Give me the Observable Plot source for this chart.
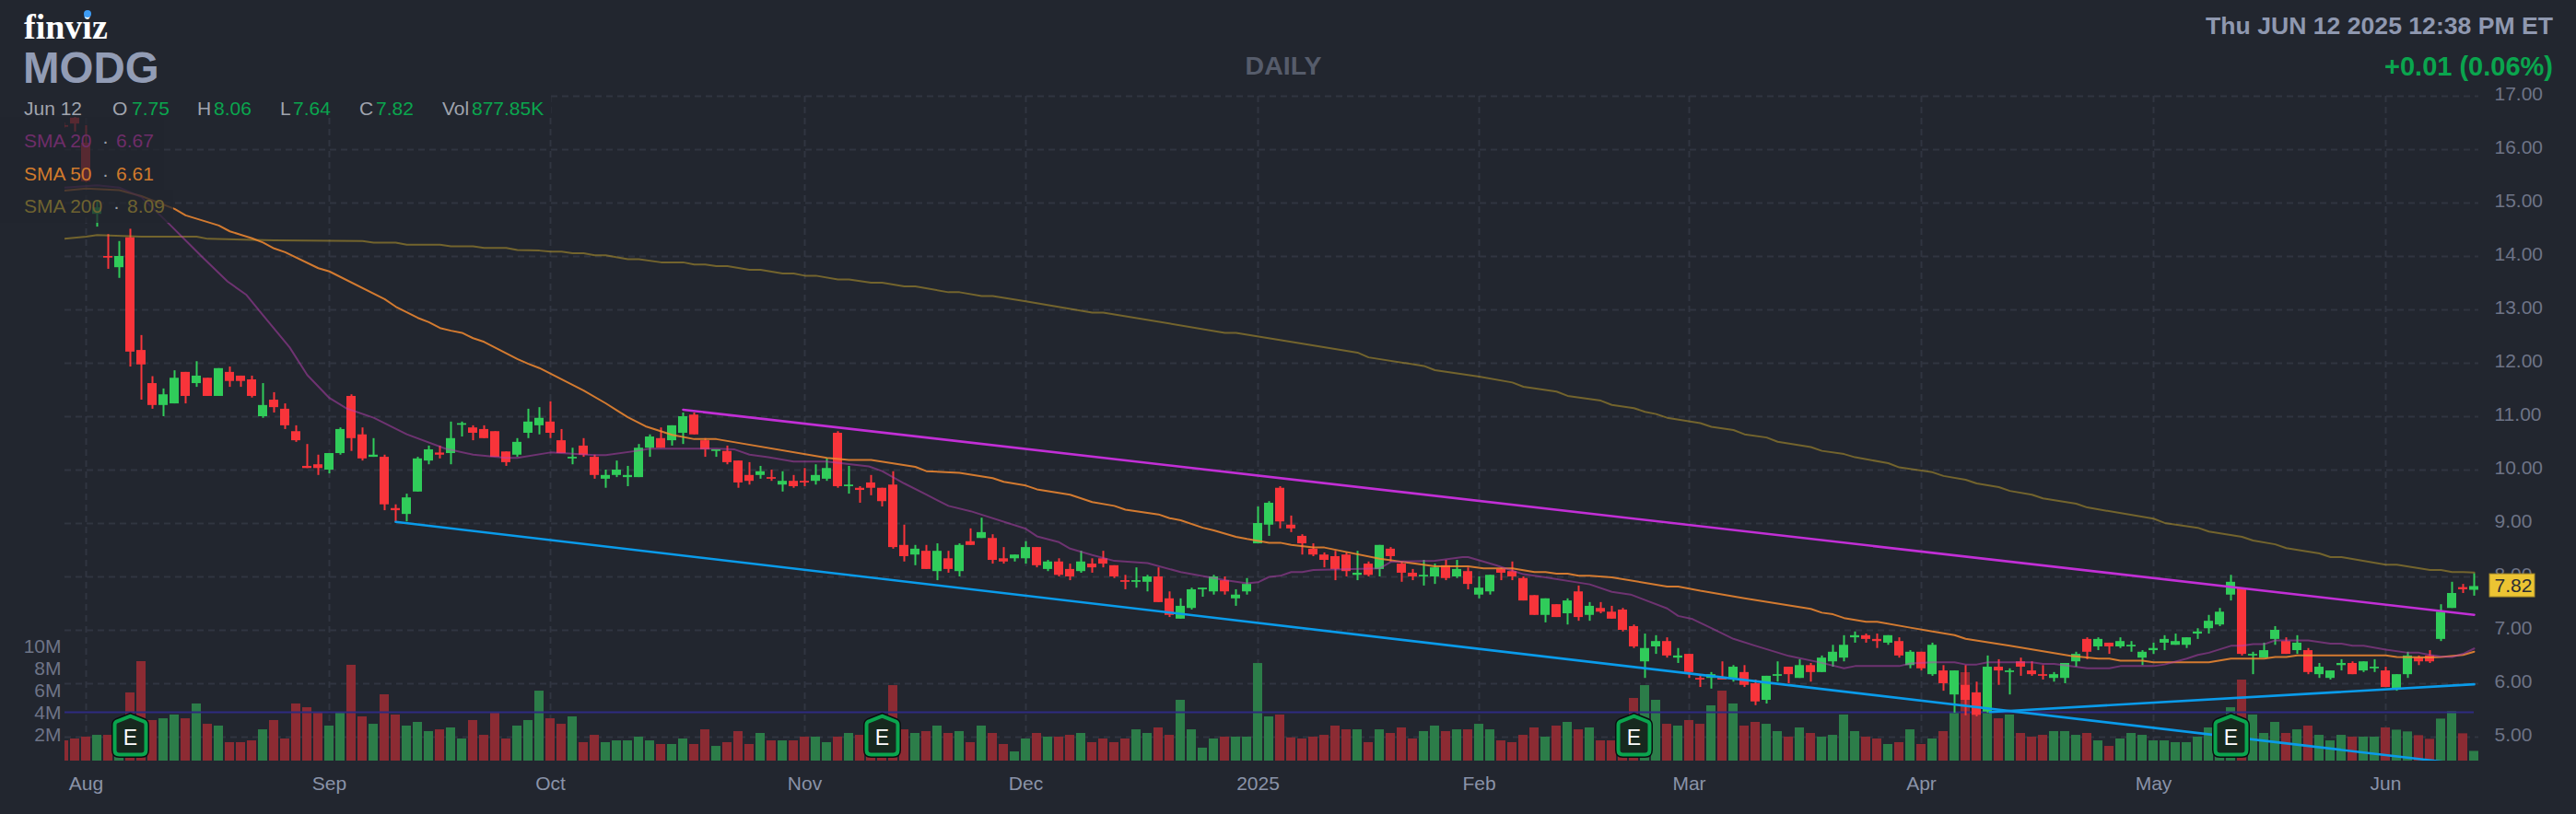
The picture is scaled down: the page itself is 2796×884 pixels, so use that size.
<!DOCTYPE html>
<html><head><meta charset="utf-8">
<script src="https://cdn.jsdelivr.net/npm/d3@7"></script>
<script src="https://cdn.jsdelivr.net/npm/@observablehq/plot@0.6"></script>
<style>
html,body{margin:0;padding:0;background:#22262f;font-family:"Liberation Sans",Arial,sans-serif;}
#wrap{position:relative;width:2796px;height:884px;overflow:hidden;}
#wrap svg{display:block;}
.a{position:absolute;white-space:pre;line-height:1;}
.lab{font-size:21px;color:#a0a4ae;}
.g{font-size:21px;color:#0aa54e;}
</style></head><body>
<div id="wrap">
<div id="chart"></div>
<div class="a" style="left:0;top:102px;width:598px;height:25px;background:#22262f"></div>
<div class="a" style="left:0;top:127px;width:178px;height:79px;background:rgba(34,38,47,.75)"></div>
<div class="a" style="left:0;top:206px;width:188px;height:36px;background:rgba(34,38,47,.75)"></div>
<div class="a" style="left:26px;top:7px;font:bold 38px 'Liberation Serif',serif;color:#fff">finviz</div>
<div class="a" style="left:90.5px;top:11px;width:8px;height:8px;border-radius:50%;background:#3d9cf5"></div>
<div class="a" style="left:25px;top:50px;font-weight:bold;font-size:47.5px;color:#929cb5">MODG</div>
<div class="a" style="left:1350px;top:57px;width:86px;text-align:center;font-weight:bold;font-size:28.5px;color:#565c6b">DAILY</div>
<div class="a" style="right:25px;top:15px;font-weight:bold;font-size:26.6px;color:#8f98b0">Thu JUN 12 2025 12:38 PM ET</div>
<div class="a" style="right:25px;top:58px;font-weight:bold;font-size:29px;color:#0aa54e">+0.01 (0.06%)</div>
<div class="a lab" style="left:26px;top:107px">Jun 12</div>
<div class="a lab" style="left:122px;top:107px">O</div><div class="a g" style="left:143px;top:107px">7.75</div>
<div class="a lab" style="left:214px;top:107px">H</div><div class="a g" style="left:232px;top:107px">8.06</div>
<div class="a lab" style="left:304px;top:107px">L</div><div class="a g" style="left:318px;top:107px">7.64</div>
<div class="a lab" style="left:390px;top:107px">C</div><div class="a g" style="left:408px;top:107px">7.82</div>
<div class="a lab" style="left:480px;top:107px">Vol</div><div class="a g" style="left:512px;top:107px">877.85K</div>
<div class="a" style="left:26px;top:142px;font-size:21px;color:#6e2d69">SMA 20</div><div class="a" style="left:111px;top:142px;font-size:21px;color:#9a9ea8">·</div><div class="a" style="left:126px;top:142px;font-size:21px;color:#6e2d69">6.67</div>
<div class="a" style="left:26px;top:178px;font-size:21px;color:#d07a2c">SMA 50</div><div class="a" style="left:111px;top:178px;font-size:21px;color:#9a9ea8">·</div><div class="a" style="left:126px;top:178px;font-size:21px;color:#d07a2c">6.61</div>
<div class="a" style="left:26px;top:213px;font-size:21px;color:#6f6330">SMA 200</div><div class="a" style="left:123px;top:213px;font-size:21px;color:#9a9ea8">·</div><div class="a" style="left:138px;top:213px;font-size:21px;color:#6f6330">8.09</div>
</div>
<script>
// Daily candles. Index 0 is Jul 30 2024, index 218 is Jun 12 2025.
const opens = [16.45,16.59,16.12,14.79,14.00,13.79,14.35,12.24,11.62,11.21,
11.24,11.83,11.62,11.72,11.38,11.83,11.76,11.69,11.00,11.31,
11.14,10.72,10.07,10.10,10.00,10.31,11.38,10.66,10.24,10.24,
9.28,9.17,9.59,10.17,10.32,10.31,10.84,10.79,10.76,10.72,
10.34,10.28,10.69,10.83,10.90,10.55,10.21,10.45,10.24,9.83,
9.90,9.86,9.86,10.41,10.59,10.55,10.69,11.03,10.55,10.35,
10.35,10.17,9.90,9.90,9.86,9.72,9.79,9.79,9.79,9.83,
10.69,9.69,9.66,9.76,9.66,9.72,8.59,8.41,8.48,8.10,
8.34,8.10,8.66,8.72,8.72,8.34,8.34,8.34,8.55,8.14,
8.28,8.14,8.10,8.24,8.34,8.21,7.93,7.90,7.90,8.00,
7.59,7.21,7.41,7.76,7.72,7.93,7.59,7.72,8.62,8.97,
9.66,8.97,8.76,8.52,8.41,8.38,8.41,8.03,8.24,8.14,
8.52,8.24,8.07,8.00,8.00,8.21,8.00,8.10,7.66,7.72,
8.14,8.10,7.97,7.65,7.28,7.48,7.31,7.72,7.28,7.41,
7.34,7.38,7.07,6.41,6.69,6.79,6.48,6.55,6.10,6.10,
6.11,6.10,6.21,6.00,5.69,6.14,6.31,6.10,6.34,6.21,
6.41,6.48,6.86,6.90,6.83,6.76,6.79,6.34,6.59,6.17,
6.24,5.79,5.97,5.83,5.47,6.31,6.21,6.41,6.24,6.17,
6.10,6.10,6.41,6.83,6.69,6.76,6.69,6.69,6.48,6.62,
6.76,6.72,6.72,6.93,7.03,7.10,7.66,7.79,6.52,6.48,
6.83,6.79,6.62,6.62,6.17,6.10,6.34,6.38,6.24,6.28,
6.24,5.90,6.17,6.48,6.52,6.83,7.41,7.80,7.75];
const highs = [16.50,16.62,16.45,15.05,14.41,14.28,14.51,12.52,11.75,11.52,
11.86,11.83,12.03,11.72,11.90,11.93,11.76,11.76,11.62,11.45,
11.24,10.83,10.48,10.28,10.31,10.79,11.41,10.79,10.59,10.28,
9.35,9.55,10.24,10.45,10.45,10.90,10.90,10.83,10.83,10.72,
10.34,10.59,11.14,11.17,11.28,10.76,10.41,10.59,10.28,10.00,
10.17,10.07,10.48,10.66,10.79,10.83,11.07,11.07,10.59,10.38,
10.45,10.17,10.14,10.07,10.00,9.97,9.90,10.03,10.10,10.21,
10.72,10.07,9.69,9.90,9.66,9.97,8.97,8.59,8.59,8.62,
8.48,8.62,8.90,9.10,8.79,8.55,8.41,8.66,8.55,8.31,
8.34,8.24,8.48,8.34,8.48,8.21,8.03,8.17,8.03,8.17,
7.72,7.59,7.79,7.79,8.03,8.00,7.76,7.97,9.31,9.41,
9.69,9.14,8.79,8.62,8.45,8.48,8.45,8.48,8.28,8.59,
8.55,8.28,8.14,8.31,8.24,8.31,8.31,8.17,8.00,8.03,
8.17,8.28,8.00,7.65,7.59,7.48,7.59,7.83,7.52,7.52,
7.45,7.41,7.10,6.93,6.90,6.86,6.66,6.55,6.17,6.21,
6.41,6.34,6.34,6.07,6.14,6.41,6.31,6.45,6.38,6.52,
6.72,6.90,6.97,6.93,6.93,6.90,6.86,6.62,6.59,6.76,
6.34,6.24,6.34,6.03,6.52,6.45,6.28,6.48,6.41,6.34,
6.21,6.38,6.59,6.86,6.86,6.76,6.86,6.79,6.62,6.76,
6.90,6.93,6.86,7.03,7.28,7.41,8.03,7.79,6.59,6.76,
7.07,6.86,6.90,6.66,6.38,6.24,6.45,6.41,6.41,6.45,
6.31,6.17,6.59,6.52,6.62,7.48,7.90,7.86,8.06];
const lows = [16.40,16.33,15.38,14.55,13.76,13.59,11.93,11.31,11.14,11.00,
11.24,11.24,11.55,11.38,11.38,11.55,11.55,11.35,10.97,11.07,
10.76,10.52,10.03,9.90,9.93,10.28,10.35,10.17,10.24,9.24,
9.02,9.03,9.59,10.10,10.21,10.10,10.62,10.55,10.59,10.24,
10.07,10.24,10.59,10.66,10.59,10.31,10.10,10.24,9.83,9.66,
9.86,9.69,9.86,10.24,10.41,10.45,10.48,10.66,10.24,10.24,
10.10,9.66,9.72,9.83,9.79,9.59,9.66,9.69,9.72,9.79,
9.66,9.55,9.38,9.52,9.31,8.52,8.28,8.21,8.14,7.93,
8.07,8.00,8.59,8.72,8.24,8.24,8.28,8.24,8.17,8.10,
8.00,7.93,8.07,8.07,8.17,7.97,7.76,7.79,7.72,7.52,
7.24,7.21,7.38,7.62,7.66,7.66,7.45,7.66,8.62,8.76,
8.90,8.83,8.41,8.38,8.17,7.93,8.00,7.93,8.00,8.00,
8.28,7.90,7.93,7.83,7.86,7.93,7.97,7.76,7.59,7.66,
7.93,7.93,7.55,7.28,7.14,7.24,7.10,7.17,7.17,7.31,
7.21,6.97,6.66,6.10,6.55,6.48,6.38,6.10,5.93,5.90,
6.07,6.03,5.93,5.59,5.62,6.03,6.00,6.10,6.03,6.21,
6.31,6.41,6.76,6.76,6.66,6.72,6.48,6.28,6.24,6.14,
5.86,5.45,5.40,5.38,5.45,5.97,5.79,6.14,6.14,6.07,
6.03,6.00,6.31,6.45,6.62,6.55,6.66,6.59,6.34,6.55,
6.62,6.72,6.66,6.83,6.93,7.07,7.55,6.52,6.17,6.48,
6.72,6.55,6.55,6.17,6.10,6.07,6.24,6.17,6.21,6.21,
5.93,5.86,6.10,6.34,6.38,6.79,7.41,7.69,7.64];
const closes = [16.42,16.48,15.40,14.91,13.97,14.00,12.21,11.97,11.21,11.41,
11.72,11.38,11.76,11.38,11.90,11.66,11.66,11.38,11.21,11.17,
10.83,10.55,10.03,10.03,10.31,10.76,10.59,10.21,10.28,9.35,
9.24,9.48,10.21,10.38,10.28,10.59,10.87,10.69,10.59,10.24,
10.14,10.52,10.90,10.97,10.69,10.31,10.24,10.28,9.90,9.90,
10.00,9.90,10.41,10.62,10.41,10.83,11.00,10.66,10.38,10.38,
10.14,9.76,9.79,9.97,9.83,9.79,9.69,9.76,9.90,10.03,
9.69,9.72,9.62,9.66,9.41,8.55,8.38,8.52,8.14,8.48,
8.14,8.59,8.59,8.83,8.31,8.28,8.41,8.55,8.21,8.28,
8.03,8.00,8.28,8.17,8.24,8.00,7.90,7.93,8.00,7.52,
7.28,7.45,7.76,7.79,8.00,7.72,7.66,7.86,9.00,9.38,
9.03,8.90,8.62,8.41,8.31,8.14,8.10,8.07,8.03,8.59,
8.38,8.07,8.00,8.03,8.17,7.97,8.14,7.86,7.79,8.03,
8.07,8.00,7.55,7.28,7.59,7.24,7.55,7.24,7.45,7.34,
7.21,7.00,6.69,6.66,6.79,6.52,6.52,6.21,6.07,6.17,
6.07,6.31,5.97,5.66,6.14,6.17,6.17,6.34,6.21,6.48,
6.59,6.72,6.90,6.83,6.79,6.90,6.52,6.59,6.28,6.72,
6.00,6.24,5.69,5.41,6.31,6.24,6.24,6.31,6.17,6.14,
6.17,6.38,6.55,6.59,6.83,6.69,6.79,6.72,6.59,6.66,
6.83,6.79,6.86,6.97,7.17,7.34,7.90,6.55,6.55,6.62,
7.00,6.55,6.76,6.21,6.31,6.24,6.38,6.17,6.41,6.31,
5.93,6.17,6.52,6.41,6.41,7.34,7.69,7.76,7.82];
const volumes = [1.83,2.0,2.17,2.33,2.33,2.6,6.17,9.0,3.67,3.83,
4.17,3.83,5.17,3.33,3.17,1.67,1.67,1.83,2.83,3.67,
2.0,5.17,4.83,4.33,3.17,4.33,8.67,4.0,3.33,6.0,
4.17,3.17,3.5,2.67,2.83,3.0,2.0,3.67,2.33,4.33,
2.0,3.17,3.67,6.33,3.83,3.33,4.0,1.67,2.33,1.67,
1.83,1.83,2.17,1.83,1.5,1.5,2.0,1.5,2.83,1.33,
1.67,2.67,1.5,2.5,1.83,1.83,1.83,2.17,2.17,1.67,
2.17,2.5,2.33,2.4,2.8,6.83,2.83,2.5,2.67,3.17,
2.5,2.67,1.67,3.17,2.5,1.5,0.83,2.0,2.5,2.17,
2.17,2.33,2.5,1.67,2.0,1.67,2.0,2.83,2.5,3.0,
2.33,5.5,2.83,1.17,2.0,2.17,2.17,2.17,8.83,4.0,
4.17,2.1,2.0,2.17,2.33,3.17,2.83,2.83,1.67,2.83,
2.5,3.0,2.0,2.67,3.17,2.67,2.83,2.83,3.33,2.83,
1.83,1.67,2.33,3.0,2.17,3.17,3.5,2.83,3.0,1.83,
1.83,1.6,5.67,6.83,5.5,3.33,3.17,3.67,3.33,5.0,
6.33,5.17,3.17,3.5,3.33,2.67,2.17,3.0,2.5,2.17,
2.33,4.17,2.67,2.17,2.0,1.5,1.67,2.83,1.5,2.0,
2.67,4.33,8.0,5.5,4.4,3.83,4.17,2.5,2.17,2.33,
2.67,2.67,2.33,2.5,1.83,1.33,2.0,2.5,2.33,1.83,
1.83,1.67,1.67,2.17,3.0,2.8,4.83,7.33,4.17,2.5,
3.5,2.5,2.83,3.17,2.33,1.83,2.33,2.17,2.17,2.17,
3.0,2.8,2.64,2.3,1.97,3.8,4.47,2.47,0.88];

// Moving averages, as [bar index, value] points.
const sma200 = [[0,14.33],[2,14.37],[3,14.40],[7,14.37],[12,14.37],[13,14.33],[19,14.30],[27,14.29],[28,14.26],[30,14.26],[31,14.22],[34,14.22],[35,14.19],[37,14.19],[38,14.16],[40,14.16],[41,14.12],[43,14.11],[44,14.09],[45,14.09],[46,14.06],[47,14.06],[48,14.02],[49,14.02],[51,13.95],[52,13.95],[54,13.89],[56,13.89],[57,13.85],[58,13.85],[59,13.82],[60,13.82],[62,13.75],[63,13.75],[65,13.68],[66,13.68],[67,13.64],[68,13.64],[70,13.57],[71,13.57],[73,13.51],[74,13.51],[76,13.44],[77,13.44],[80,13.33],[81,13.33],[83,13.26],[84,13.26],[87,13.16],[93,12.95],[94,12.95],[105,12.57],[106,12.57],[111,12.40],[117,12.20],[118,12.11],[123,11.95],[124,11.87],[128,11.75],[131,11.64],[132,11.56],[135,11.47],[136,11.39],[139,11.30],[140,11.22],[142,11.16],[143,11.09],[144,11.05],[145,10.98],[148,10.88],[149,10.81],[151,10.75],[152,10.67],[154,10.61],[155,10.53],[158,10.43],[159,10.36],[161,10.30],[162,10.24],[165,10.13],[166,10.05],[169,9.96],[170,9.89],[172,9.82],[173,9.75],[175,9.68],[176,9.61],[178,9.54],[179,9.47],[182,9.37],[183,9.30],[189,9.09],[190,9.01],[193,8.92],[194,8.85],[197,8.75],[198,8.68],[200,8.61],[201,8.54],[204,8.44],[205,8.37],[206,8.37],[210,8.23],[211,8.23],[214,8.13],[215,8.13],[216,8.09],[217,8.09],[218,8.08]];
const sma50 = [[0,15.23],[2,15.27],[5,15.24],[7,15.13],[10,14.89],[11,14.77],[14,14.58],[15,14.47],[17,14.34],[18,14.26],[19,14.15],[20,14.08],[23,13.78],[24,13.72],[29,13.20],[30,13.06],[32,12.85],[33,12.77],[34,12.66],[35,12.61],[36,12.57],[37,12.47],[38,12.40],[41,12.08],[42,11.99],[43,11.91],[47,11.49],[49,11.25],[50,11.12],[51,10.99],[52.6,10.82],[55,10.66],[57,10.58],[59,10.58],[69,10.23],[71,10.19],[73,10.19],[77,10.06],[78,9.98],[81,9.95],[84,9.85],[85,9.78],[87,9.71],[88,9.64],[91,9.54],[93,9.40],[95,9.33],[96,9.26],[99,9.17],[100,9.10],[101,9.06],[103,8.92],[104,8.87],[106,8.75],[107,8.71],[109,8.64],[110,8.64],[111,8.60],[113,8.55],[114,8.55],[119,8.34],[124,8.20],[127,8.20],[128.4,8.16],[131,8.16],[133,8.09],[134,8.09],[135,8.06],[136,8.06],[137,8.02],[138,8.02],[140,7.99],[143,7.89],[145,7.82],[146,7.82],[148,7.74],[152,7.60],[158,7.40],[159,7.33],[160,7.30],[161,7.23],[163,7.16],[164,7.16],[167,7.05],[169,6.98],[171,6.91],[172,6.84],[176,6.71],[181.5,6.52],[184,6.47],[185,6.47],[186,6.43],[188,6.43],[189,6.40],[194,6.40],[196,6.47],[199,6.47],[200,6.50],[201,6.50],[202,6.53],[210,6.53],[211,6.50],[214,6.49],[215,6.50],[217,6.54],[218,6.60]];
const sma20 = [[0,15.29],[3,15.33],[5,15.29],[7,15.11],[8.7,14.77],[9.5,14.61],[12.6,13.97],[14.8,13.53],[16.5,13.28],[18,12.90],[20.4,12.30],[22,11.78],[24,11.35],[25.6,11.15],[28,10.98],[31,10.67],[34.5,10.40],[37,10.29],[40,10.23],[41,10.23],[44,10.33],[48,10.28],[49,10.28],[51.8,10.36],[53,10.40],[59,10.40],[60.6,10.39],[62,10.29],[63.7,10.24],[66,10.16],[69,10.16],[72.8,10.07],[74,9.98],[76,9.75],[78,9.54],[80,9.33],[82,9.23],[87,8.90],[88,8.76],[90,8.65],[91,8.53],[93,8.41],[95,8.30],[98,8.26],[101,8.09],[105,7.94],[107,7.88],[108,7.90],[109,8.0],[110,8.02],[111,8.09],[112,8.09],[113,8.13],[119,8.16],[120,8.28],[121,8.29],[124,8.30],[126.5,8.37],[127,8.37],[129.5,8.22],[132,8.05],[134,7.99],[138,7.86],[140,7.72],[141.7,7.67],[145,7.41],[146,7.27],[147.3,7.21],[149,7.04],[151,6.84],[153,6.71],[156,6.52],[159,6.39],[161,6.29],[162,6.33],[166,6.33],[167,6.38],[169,6.40],[171,6.40],[172,6.36],[173,6.36],[174,6.40],[178,6.40],[179,6.37],[180,6.37],[183,6.29],[185,6.29],[186,6.33],[189,6.33],[190,6.36],[192,6.47],[193,6.54],[194,6.58],[196,6.71],[197,6.71],[198,6.74],[199,6.74],[200,6.81],[203,6.81],[205,6.75],[206,6.75],[207,6.71],[208,6.71],[210,6.64],[212,6.58],[213,6.58],[214,6.54],[215,6.51],[216,6.50],[217,6.56],[218,6.66]];

// Hand-drawn trend lines, as [bar index, price] ends.
const purpleTrend = [[56,11.13],[218,7.29]];
const blueTrendDown = [[30,9.03],[218,4.47]];
const blueTrendUp = [[174.2,5.47],[218,5.99]];

const priceTicks = [5,6,7,8,9,10,11,12,13,14,15,16,17];
const volumeTicks = [2,4,6,8,10];
const monthBars = [2,24,44,67,87,108,128,147,168,189,210];
const monthLabels = ["Aug","Sep","Oct","Nov","Dec","2025","Feb","Mar","Apr","May","Jun"];
const earningsBars = [6,74,142,196];
const averageVolume = 4.42;
const lastClose = 7.82;

// Price and volume share one frame: volume is stacked from the frame floor.
const priceFloor = 4.552, priceTop = 17;
const dollarsPerMillion = 12 / 58;
const volToPrice = v => priceFloor + v * dollarsPerMillion;
const priceToVol = p => Math.round((p - priceFloor) / dollarsPerMillion);

const bars = opens.map((o, i) => ({i, o, h: highs[i], l: lows[i], c: closes[i], v: volumes[i], up: closes[i] >= o}));
const half = 5 / 12;

const house = {draw(c) {
  const w = 17, s = -14, t = -21, b = 21, r = 5;
  c.moveTo(0, t);
  c.lineTo(w - 2, s - 1);
  c.quadraticCurveTo(w, s, w, s + 3);
  c.lineTo(w, b - r);
  c.quadraticCurveTo(w, b, w - r, b);
  c.lineTo(-w + r, b);
  c.quadraticCurveTo(-w, b, -w, b - r);
  c.lineTo(-w, s + 3);
  c.quadraticCurveTo(-w, s, -w + 2, s - 1);
  c.closePath();
}};

const xy = {x: d => d[0], y: d => d[1], clip: true, strokeLinejoin: "round"};
const grid = {stroke: "#303541", strokeWidth: 2, strokeDasharray: "7 5", strokeOpacity: 1};
const tickText = {tickSize: 0, fontSize: 21, label: null, color: "#6e7487"};

const chart = Plot.plot({
  width: 2796, height: 884,
  marginLeft: 70, marginRight: 106, marginTop: 104, marginBottom: 58,
  style: {background: "transparent", fontFamily: "'Liberation Sans', Arial, sans-serif"},
  x: {type: "linear", domain: [1 / 12, 218 + 5 / 12], axis: null},
  y: {type: "linear", domain: [priceFloor, priceTop], axis: null},
  marks: [
    Plot.gridY(priceTicks, grid),
    Plot.gridX(monthBars, grid),
    Plot.axisX(monthBars, {...tickText, anchor: "bottom", tickPadding: 17, color: "#8a93a8", tickFormat: i => monthLabels[monthBars.indexOf(i)]}),
    Plot.axisY(priceTicks, {...tickText, anchor: "right", tickPadding: 17, dy: -2, tickFormat: d3.format(".2f")}),
    Plot.axisY(volumeTicks.map(volToPrice), {...tickText, anchor: "left", tickPadding: 4, dy: -4, tickFormat: p => priceToVol(p) + "M"}),
    Plot.rect(bars, {x1: d => d.i - half, x2: d => d.i + half, y1: priceFloor, y2: d => volToPrice(d.v), fill: d => d.up ? "#2c7d49" : "#8c2b33", clip: true}),
    Plot.ruleY([volToPrice(averageVolume)], {x1: 1 / 12, x2: 218, stroke: "#2e2b80", strokeWidth: 2}),
    Plot.ruleX(bars, {x: "i", y1: "l", y2: "h", stroke: d => d.up ? "#30cc5a" : "#f8343a", strokeWidth: 2, clip: true}),
    Plot.rect(bars, {x1: d => d.i - half, x2: d => d.i + half, y1: "o", y2: "c", fill: d => d.up ? "#30cc5a" : "#f8343a", clip: true}),
    Plot.line(sma200, {...xy, stroke: "#c4a22b", strokeOpacity: .5, strokeWidth: 2}),
    Plot.line(sma50, {...xy, stroke: "#f28a30", strokeOpacity: .85, strokeWidth: 2}),
    Plot.line(sma20, {...xy, stroke: "#b93fb4", strokeOpacity: .5, strokeWidth: 2}),
    Plot.line(purpleTrend, {...xy, stroke: "#c22fd6", strokeWidth: 2.6}),
    Plot.line(blueTrendDown, {...xy, stroke: "#0a9bea", strokeWidth: 2.6}),
    Plot.line(blueTrendUp, {...xy, stroke: "#0a9bea", strokeWidth: 2.6}),
    Plot.dot(earningsBars, {x: d => d, y: () => volToPrice(2.33), symbol: house, r: 10, fill: "#0b0d10", stroke: "#0b0d10", strokeWidth: 7}),
    Plot.dot(earningsBars, {x: d => d, y: () => volToPrice(2.33), symbol: house, r: 10, fill: "#17291f", stroke: "#0aa54e", strokeWidth: 4}),
    Plot.text(earningsBars, {x: d => d, y: () => volToPrice(2.1), text: () => "E", fill: "#fff", fontSize: 23}),
    Plot.rect([lastClose], {x1: 219.42, x2: 223.5, y1: d => d - .2, y2: d => d + .23, fill: "#ecc433", stroke: "#a98d2b", strokeWidth: 1}),
    Plot.text([lastClose], {x: 219.83, y: d => d, text: d => d3.format(".2f")(d), textAnchor: "start", fontSize: 21, fill: "#2b2d33", dy: -1})
  ]
});
document.getElementById("chart").appendChild(chart);
</script>
</body></html>
